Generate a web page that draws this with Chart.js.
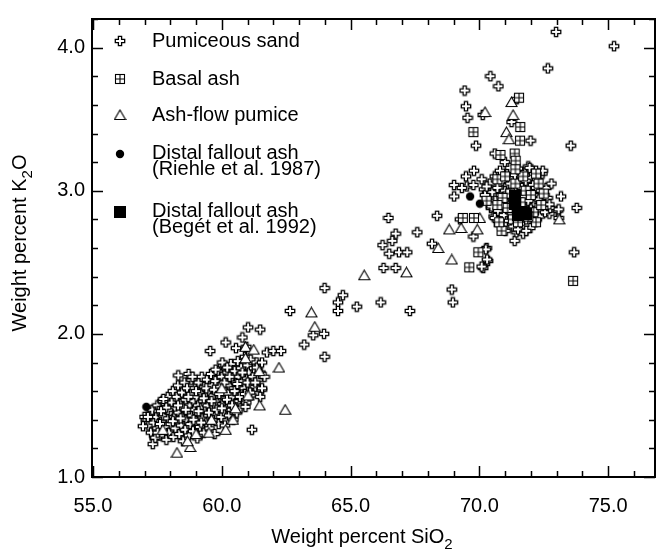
<!DOCTYPE html>
<html>
<head>
<meta charset="utf-8">
<script src="https://cdn.jsdelivr.net/npm/chart.js@4.4.0/dist/chart.umd.min.js"></script>
<style>
html, body { margin: 0; padding: 0; background: #fff; }
</style>
</head>
<body>
<canvas id="chart" width="661" height="550"></canvas>
<script>
// values: [SiO2, K2O]
var sandPts = [
  [57.05,1.40],[57.15,1.36],[57.2,1.44],[57.25,1.31],[57.3,1.47],[57.35,1.38],[57.4,1.27],[57.45,1.42],[57.5,1.34],[57.5,1.50],
  [57.55,1.46],[57.6,1.29],[57.65,1.39],[57.7,1.53],[57.72,1.43],[57.78,1.35],[57.8,1.48],[57.85,1.26],[57.9,1.56],[57.92,1.41],
  [57.95,1.31],[58.0,1.45],[58.02,1.37],[58.05,1.52],[58.1,1.60],[58.12,1.28],[58.15,1.42],[58.18,1.48],[58.2,1.34],[58.25,1.56],
  [58.28,1.39],[58.3,1.64],[58.32,1.45],[58.35,1.30],[58.4,1.51],[58.42,1.36],[58.45,1.59],[58.48,1.42],[58.5,1.25],[58.52,1.48],
  [58.55,1.66],[58.58,1.33],[58.6,1.54],[58.62,1.40],[58.65,1.62],[58.7,1.45],[58.72,1.29],[58.75,1.50],[58.78,1.37],[58.8,1.58],
  [58.82,1.68],[58.85,1.43],[58.88,1.32],[58.9,1.53],[58.92,1.47],[58.95,1.62],[59.0,1.39],[59.02,1.56],[59.05,1.27],[59.08,1.50],
  [59.1,1.66],[59.12,1.44],[59.15,1.35],[59.18,1.59],[59.2,1.48],[59.22,1.70],[59.25,1.41],[59.28,1.53],[59.3,1.31],[59.32,1.63],
  [59.35,1.46],[59.38,1.57],[59.4,1.38],[59.42,1.68],[59.45,1.50],[59.48,1.43],[59.5,1.60],[59.52,1.34],[59.55,1.54],[59.58,1.72],
  [59.6,1.47],[59.62,1.64],[59.65,1.40],[59.68,1.57],[59.7,1.51],[59.72,1.30],[59.75,1.67],[59.78,1.44],[59.8,1.60],[59.82,1.53],
  [59.85,1.74],[59.88,1.37],[59.9,1.48],[59.92,1.63],[59.95,1.56],[59.98,1.42],[60.0,1.70],[60.02,1.51],[60.05,1.78],[60.08,1.46],
  [60.1,1.61],[60.12,1.36],[60.15,1.55],[60.18,1.67],[60.2,1.49],[60.22,1.73],[60.25,1.58],[60.28,1.43],[60.3,1.64],[60.32,1.52],
  [60.35,1.79],[60.38,1.47],[60.4,1.69],[60.42,1.56],[60.45,1.40],[60.48,1.62],[60.5,1.74],[60.52,1.51],[60.55,1.66],[60.58,1.45],
  [60.6,1.58],[60.62,1.81],[60.65,1.70],[60.68,1.53],[60.7,1.63],[60.72,1.48],[60.75,1.76],[60.78,1.59],[60.8,1.67],[60.82,1.55],
  [60.85,1.72],[60.88,1.62],[60.9,1.84],[60.95,1.52],[60.98,1.69],[61.0,1.78],[61.02,1.60],[61.05,1.73],[61.1,1.65],[61.12,1.82],
  [61.15,1.57],[61.2,1.70],[61.25,1.76],[61.3,1.63],[61.35,1.80],[61.4,1.68],[61.5,1.73],[61.55,1.61],
  [57.6,1.37],[57.9,1.47],[58.1,1.39],[58.3,1.50],[58.4,1.41],[58.6,1.47],[58.7,1.56],[58.9,1.40],[59.0,1.60],[59.1,1.46],
  [59.2,1.38],[59.3,1.55],[59.4,1.62],[59.5,1.45],[59.6,1.53],[59.7,1.61],[59.8,1.47],[59.9,1.58],[60.0,1.48],[60.1,1.66],
  [60.2,1.54],[60.3,1.70],[60.4,1.50],[60.5,1.60],[60.6,1.65],[60.7,1.56],[60.8,1.73],[60.9,1.58],[61.0,1.66],[61.1,1.59],
  [57.0,1.42],[56.94,1.355],[57.13,1.42],[57.32,1.23],[57.42,1.275],[57.51,1.31],[57.71,1.53],[57.84,1.485],[57.64,1.46],[57.73,1.545],
  [58.31,1.71],[58.71,1.72],[58.86,1.70],[60.02,1.80],[60.21,1.765],[59.76,1.75],[61.30,1.66],[61.49,1.72],[61.56,1.62],[61.49,1.56],
  [61.17,1.33],[60.92,1.49],[61.36,1.765],[61.56,1.80],[61.66,1.70],[59.55,1.88],[60.15,1.94],[60.55,1.90],[60.8,1.975],[60.95,1.91],
  [61.02,2.045],[61.49,2.03],[61.75,1.87],[62.0,1.88],[62.3,1.88],[63.2,1.925],[62.65,2.16],
  [63.55,1.99],[63.97,2.00],[63.99,1.84],[63.99,2.32],[64.70,2.27],[64.51,2.22],[64.51,2.16],[65.24,2.19],[66.17,2.22],[67.30,2.16],
  [66.28,2.46],[66.75,2.46],[66.47,2.81],[66.75,2.70],[66.62,2.65],[66.24,2.62],[66.50,2.56],[66.88,2.57],[67.20,2.57],[67.59,2.71],
  [68.36,2.825],[68.16,2.63],[68.93,2.31],[68.97,2.22],[69.25,2.80],[69.77,2.68],[70.28,2.60],[70.34,2.51],[70.15,2.46],[73.68,2.57],
  [72.98,4.11],[75.23,4.01],[72.66,3.855],[70.43,3.80],[70.74,3.73],[69.43,3.70],[69.48,3.59],[69.54,3.51],[70.13,3.53],[71.45,3.64],
  [71.25,3.48],[71.99,3.35],[69.87,3.315],[73.55,3.315],[70.6,3.26],[70.99,3.20],[69.02,3.04],[69.02,2.96],[69.48,3.10],[69.79,3.14],
  [69.51,3.03],[69.77,3.04],[69.32,3.02],[70.09,3.08],[70.18,3.01],[73.17,2.96],[73.78,2.88],[73.04,2.86],[73.08,2.81],[72.72,2.84],
  [72.53,2.89],[71.37,2.65],[71.44,2.71],
  [70.3,2.95],[70.4,3.05],[70.45,2.88],[70.5,2.99],[70.55,2.82],[70.6,3.10],[70.62,2.93],[70.7,3.02],[70.72,2.86],[70.78,2.76],
  [70.8,3.14],[70.85,2.97],[70.88,2.90],[70.9,3.07],[70.95,2.83],[71.0,3.00],[71.02,2.72],[71.05,2.93],[71.08,3.12],[71.1,2.87],
  [71.12,3.04],[71.15,2.79],[71.18,2.96],[71.2,3.16],[71.22,2.90],[71.25,3.08],[71.28,2.84],[71.3,3.01],[71.32,2.75],[71.35,2.94],
  [71.38,3.11],[71.4,2.88],[71.42,3.04],[71.45,2.80],[71.48,2.98],[71.5,3.15],[71.52,2.91],[71.55,3.06],[71.58,2.77],[71.6,3.00],
  [71.62,2.86],[71.65,3.10],[71.68,2.94],[71.7,2.70],[71.72,3.03],[71.75,2.89],[71.78,3.13],[71.8,2.97],[71.82,2.80],[71.85,3.06],
  [71.88,2.92],[71.9,3.17],[71.92,2.85],[71.95,3.00],[71.98,2.74],[72.0,3.09],[72.02,2.94],[72.05,2.83],[72.08,3.04],[72.1,2.90],
  [72.12,3.12],[72.15,2.97],[72.18,2.78],[72.2,3.02],[72.22,2.88],[72.25,3.08],[72.3,2.94],[72.35,2.82],[72.4,3.00],[72.45,3.12],
  [72.5,2.92],[72.55,2.85],[72.6,3.02],[72.65,2.95],[72.75,2.88],[72.8,3.05],[71.5,3.155],[71.95,3.16],[72.2,3.14],[72.46,3.14],
  [72.72,2.905],[73.08,2.87],[71.5,2.73],[71.82,2.72],[70.6,2.81],[70.47,2.89],[70.22,2.97],[70.28,3.03],[70.25,2.59],[70.30,2.52],
  [70.09,2.47],[71.3,2.97],[71.45,2.92],[71.6,2.95],[71.7,2.85],[71.55,2.88],[71.4,2.99],[71.25,2.91],[71.65,3.02],[71.35,2.86],
  [71.75,2.96],[71.1,2.98],[71.9,2.93],[72.0,2.87],[71.2,3.05],[71.8,3.07]
];
var basalPts = [
  [71.54,3.65],[71.59,3.445],[69.77,3.41],[71.58,3.35],[70.82,3.25],[71.37,3.26],[71.41,3.21],[70.70,3.08],[70.28,2.93],[69.36,2.81],
  [69.79,2.81],[70.86,2.72],[72.2,2.78],[69.96,2.57],[69.61,2.465],[73.64,2.37],[70.77,2.78],[72.2,3.12],
  [71.0,3.10],[71.2,2.98],[71.4,3.05],[71.6,2.92],[71.8,3.00],[72.0,2.97],[72.1,2.85],[71.3,2.80],[70.9,2.95],[71.5,2.78],
  [72.3,3.05],[71.7,3.10],[72.4,2.90],[71.1,2.88],[71.9,2.82],[71.4,3.15],[72.5,2.98],[70.7,2.90]
];
var pumicePts = [
  [71.25,3.62],[71.31,3.53],[70.22,3.55],[71.05,3.41],[71.15,3.36],[68.83,2.73],[69.29,2.74],[69.92,2.73],[68.40,2.60],[68.93,2.52],
  [67.17,2.43],[70.02,2.81],[73.1,2.80],[65.53,2.41],[63.48,2.15],[63.61,2.05],[62.22,1.765],[62.46,1.47],
  [60.92,1.91],[61.24,1.89],[60.92,1.83],[61.45,1.74],[61.47,1.50],[61.02,1.57],[60.53,1.48],[60.43,1.40],[60.15,1.33],[59.5,1.31],
  [58.26,1.17],[58.77,1.21],[58.67,1.25],[57.71,1.33],[59.0,1.30],[60.0,1.62],[59.6,1.40]
];
var riehlePts = [[57.07,1.49],[69.64,2.96],[70.02,2.91]];
var begetPts = [[71.40,2.96],[71.40,2.91],[71.63,2.85],[71.82,2.84],[71.51,2.83]];

var seriesNames = ['Pumiceous sand', 'Basal ash', 'Ash-flow pumice',
  ['Distal fallout ash', '(Riehle et al. 1987)'], ['Distal fallout ash', '(Begét et al. 1992)']];

var xMin = 54.96, xMax = 76.82, yMin = 1.0, yMax = 4.2;
var FONT = '"Liberation Sans", Arial, Helvetica, sans-serif';

function mk(w, h, fn) {
  var cv = document.createElement('canvas');
  cv.width = w; cv.height = h;
  var g = cv.getContext('2d');
  g.strokeStyle = '#000'; g.fillStyle = '#fff'; g.lineWidth = 1;
  fn(g);
  return cv;
}
var crossImg = mk(12, 12, function(g) {
  var c = 6, r = 4.7, a = 1.6;
  var p = [[c-a,c-r],[c+a,c-r],[c+a,c-a],[c+r,c-a],[c+r,c+a],[c+a,c+a],[c+a,c+r],[c-a,c+r],[c-a,c+a],[c-r,c+a],[c-r,c-a],[c-a,c-a]];
  g.beginPath(); g.moveTo(p[0][0], p[0][1]);
  for (var i = 1; i < p.length; i++) g.lineTo(p[i][0], p[i][1]);
  g.closePath(); g.fill(); g.lineWidth = 1.3; g.stroke();
});
var basalImg = mk(12, 12, function(g) {
  g.fillRect(1.5, 1.5, 9, 9);
  g.lineWidth = 1.1;
  g.strokeRect(1.5, 1.5, 9, 9);
  g.beginPath(); g.moveTo(6, 1.5); g.lineTo(6, 10.5); g.moveTo(1.5, 6); g.lineTo(10.5, 6); g.stroke();
});
var triImg = mk(13, 12, function(g) {
  g.beginPath(); g.moveTo(6.5, 1); g.lineTo(12, 10.5); g.lineTo(1, 10.5); g.closePath(); g.fill();
  g.lineWidth = 1.1; g.stroke();
});
var dotImg = mk(10, 10, function(g) {
  g.fillStyle = '#000'; g.beginPath(); g.arc(5, 5, 4.2, 0, Math.PI * 2); g.fill();
});
var sqImg = mk(12, 12, function(g) {
  g.fillStyle = '#000'; g.fillRect(0, 0, 12, 12);
});
var styles = [crossImg, basalImg, triImg, dotImg, sqImg];

function toXY(p) { return { x: p[0], y: p[1] }; }
function isWhole(v, step) { var q = v / step; return Math.abs(q - Math.round(q)) < 1e-6; }

var frameTicks = {
  id: 'frameTicks',
  afterDraw: function(chart) {
    var c = chart.ctx, a = chart.chartArea, xs = chart.scales.x, ys = chart.scales.y;
    c.save();
    c.strokeStyle = '#000';
    c.lineWidth = 1.5;
    c.beginPath();
    xs.ticks.forEach(function(t) {
      var px = Math.round(xs.getPixelForValue(t.value)) + 0.5;
      var len = isWhole(t.value, 5) ? 11 : 6;
      c.moveTo(px, a.bottom); c.lineTo(px, a.bottom - len);
      c.moveTo(px, a.top); c.lineTo(px, a.top + len);
    });
    ys.ticks.forEach(function(t) {
      var py = Math.round(ys.getPixelForValue(t.value)) + 0.5;
      var len = isWhole(t.value, 1) ? 11 : 6;
      c.moveTo(a.left, py); c.lineTo(a.left + len, py);
      c.moveTo(a.right, py); c.lineTo(a.right - len, py);
    });
    c.stroke();
    c.lineWidth = 2;
    c.strokeRect(a.left, a.top, a.right - a.left, a.bottom - a.top);

    // legend in the upper left of the plot
    var rows = [41, 79, 115, 153, 211];
    c.fillStyle = '#000';
    c.font = '20px ' + FONT;
    c.textBaseline = 'middle';
    c.textAlign = 'left';
    for (var i = 0; i < seriesNames.length; i++) {
      var img = styles[i];
      var sy = rows[i] + (Array.isArray(seriesNames[i]) ? 1 : 0);
      c.drawImage(img, 120 - img.width / 2, sy - img.height / 2);
      var lines = Array.isArray(seriesNames[i]) ? seriesNames[i] : [seriesNames[i]];
      for (var j = 0; j < lines.length; j++) c.fillText(lines[j], 152, rows[i] + j * 16);
    }

    // axis titles with subscripts
    c.textBaseline = 'alphabetic';
    var main = 'Weight percent SiO', big = '20px ' + FONT, small = '15px ' + FONT;
    c.font = big; var w1 = c.measureText(main).width;
    c.font = small; var w2 = c.measureText('2').width;
    var x0 = 362 - (w1 + w2) / 2;
    c.font = big; c.fillText(main, x0, 543);
    c.font = small; c.fillText('2', x0 + w1, 549);

    c.save();
    c.translate(26, 243);
    c.rotate(-Math.PI / 2);
    var t1 = 'Weight percent K', t2 = 'O';
    c.font = big; var a1 = c.measureText(t1).width, a3 = c.measureText(t2).width;
    c.font = small; var a2 = c.measureText('2').width;
    var s = -(a1 + a2 + a3) / 2;
    c.font = big; c.fillText(t1, s, 0);
    c.font = small; c.fillText('2', s + a1, 6);
    c.font = big; c.fillText(t2, s + a1 + a2, 0);
    c.restore();
    c.restore();
  }
};

var ctx = document.getElementById('chart').getContext('2d');
var myChart = new Chart(ctx, {
  type: 'scatter',
  data: {
    datasets: [
      { label: 'Distal fallout ash (Begét et al. 1992)', data: begetPts.map(toXY), pointStyle: sqImg, pointRadius: 5, order: 0 },
      { label: 'Distal fallout ash (Riehle et al. 1987)', data: riehlePts.map(toXY), pointStyle: dotImg, pointRadius: 4, order: 1 },
      { label: 'Basal ash', data: basalPts.map(toXY), pointStyle: basalImg, pointRadius: 4, order: 2 },
      { label: 'Ash-flow pumice', data: pumicePts.map(toXY), pointStyle: triImg, pointRadius: 4, order: 3 },
      { label: 'Pumiceous sand', data: sandPts.map(toXY), pointStyle: crossImg, pointRadius: 4, order: 4 }
    ]
  },
  options: {
    responsive: false,
    animation: false,
    devicePixelRatio: 1,
    events: [],
    layout: { padding: { top: 8, right: 1, left: 0, bottom: 0 } },
    plugins: { legend: { display: false }, tooltip: { enabled: false } },
    scales: {
      x: {
        type: 'linear', min: xMin, max: xMax,
        grid: { display: false, drawTicks: false },
        border: { display: false },
        afterFit: function(s) { s.height = 73; },
        ticks: {
          stepSize: 1, autoSkip: false, includeBounds: false, maxRotation: 0, padding: 17,
          color: '#000', font: { family: FONT, size: 20 },
          callback: function(v) { return isWhole(v, 5) ? v.toFixed(1) : ''; }
        }
      },
      y: {
        type: 'linear', min: yMin, max: yMax,
        grid: { display: false, drawTicks: false },
        border: { display: false },
        afterFit: function(s) { s.width = 92; },
        ticks: {
          stepSize: 0.2, autoSkip: false, includeBounds: false, padding: 7,
          color: '#000', font: { family: FONT, size: 20 },
          callback: function(v) { return isWhole(v, 1) ? v.toFixed(1) : ''; }
        }
      }
    }
  },
  plugins: [frameTicks]
});
</script>
</body>
</html>
